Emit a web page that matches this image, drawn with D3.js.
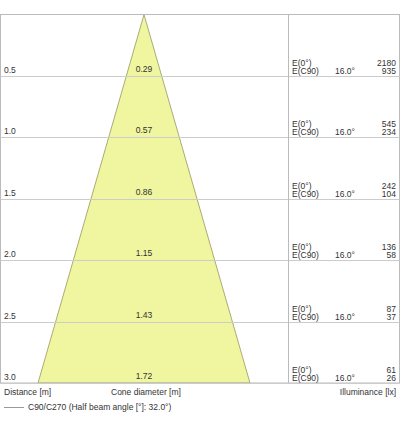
<!DOCTYPE html>
<html><head><meta charset="utf-8">
<script src="https://cdn.jsdelivr.net/npm/d3@7"></script>
<style>body{margin:0;background:#fff}text{font-family:"Liberation Sans",Arial,sans-serif;font-size:8.5px;fill:#333}</style>
</head><body><svg id="c" width="400" height="427"></svg>
<script>
const distances = [0.5, 1.0, 1.5, 2.0, 2.5, 3.0];
const diameters = [0.29, 0.57, 0.86, 1.15, 1.43, 1.72];
const eCenter = [2180, 545, 242, 136, 87, 61];
const eC90 = [935, 234, 104, 58, 37, 26];
const halfAngle = '16.0°';

(function () {
const svg = d3.select('#c');
const yTop = 14.5, yBottom = 383, xLeft = 0.5, xRight = 399.5, split = 288.5, cx = 144;

const y = d3.scaleLinear().domain([0, 3]).range([yTop, yBottom]);
const w = d3.scaleLinear().domain([0, 1.72]).range([0, 212]);

// cone
svg.append('path')
  .attr('d', `M${cx},${y(0)} L${cx - w(diameters[5]) / 2},${y(3)} L${cx + w(diameters[5]) / 2},${y(3)} Z`)
  .attr('fill', '#f0f5a0')
  .attr('stroke', '#8a8a50')
  .attr('stroke-width', 0.7);

// frame + grid
svg.append('rect').attr('x', xLeft).attr('y', yTop).attr('width', xRight - xLeft).attr('height', yBottom - yTop)
  .attr('fill', 'none').attr('stroke', '#bbb');
svg.selectAll('.g').data(distances).enter().append('line')
  .attr('x1', xLeft).attr('x2', xRight)
  .attr('y1', d => Math.round(y(d)) + 0.5).attr('y2', d => Math.round(y(d)) + 0.5)
  .attr('stroke', '#ccc');
svg.append('line').attr('x1', split).attr('x2', split).attr('y1', yTop).attr('y2', yBottom).attr('stroke', '#bbb');

distances.forEach((d, i) => {
  const yb = y(d);
  svg.append('text').attr('x', 4).attr('y', yb - 3).text(d.toFixed(1));
  svg.append('text').attr('x', cx).attr('y', yb - 4).attr('text-anchor', 'middle').text(diameters[i].toFixed(2));
  svg.append('text').attr('x', 292).attr('y', yb - 10).text('E(0°)');
  svg.append('text').attr('x', 292).attr('y', yb - 2).text('E(C90)');
  svg.append('text').attr('x', 335).attr('y', yb - 2).text(halfAngle);
  svg.append('text').attr('x', 396).attr('y', yb - 10).attr('text-anchor', 'end').text(eCenter[i]);
  svg.append('text').attr('x', 396).attr('y', yb - 2).attr('text-anchor', 'end').text(eC90[i]);
});

svg.append('text').attr('x', 4).attr('y', 395).text('Distance [m]');
svg.append('text').attr('x', 111).attr('y', 395).text('Cone diameter [m]');
svg.append('text').attr('x', 396).attr('y', 395).attr('text-anchor', 'end').text('Illuminance [lx]');
svg.append('line').attr('x1', 4).attr('x2', 24).attr('y1', 407.5).attr('y2', 407.5).attr('stroke', '#999');
svg.append('text').attr('x', 28).attr('y', 410).text('C90/C270 (Half beam angle [°]: 32.0°)');
})();
</script></body></html>
